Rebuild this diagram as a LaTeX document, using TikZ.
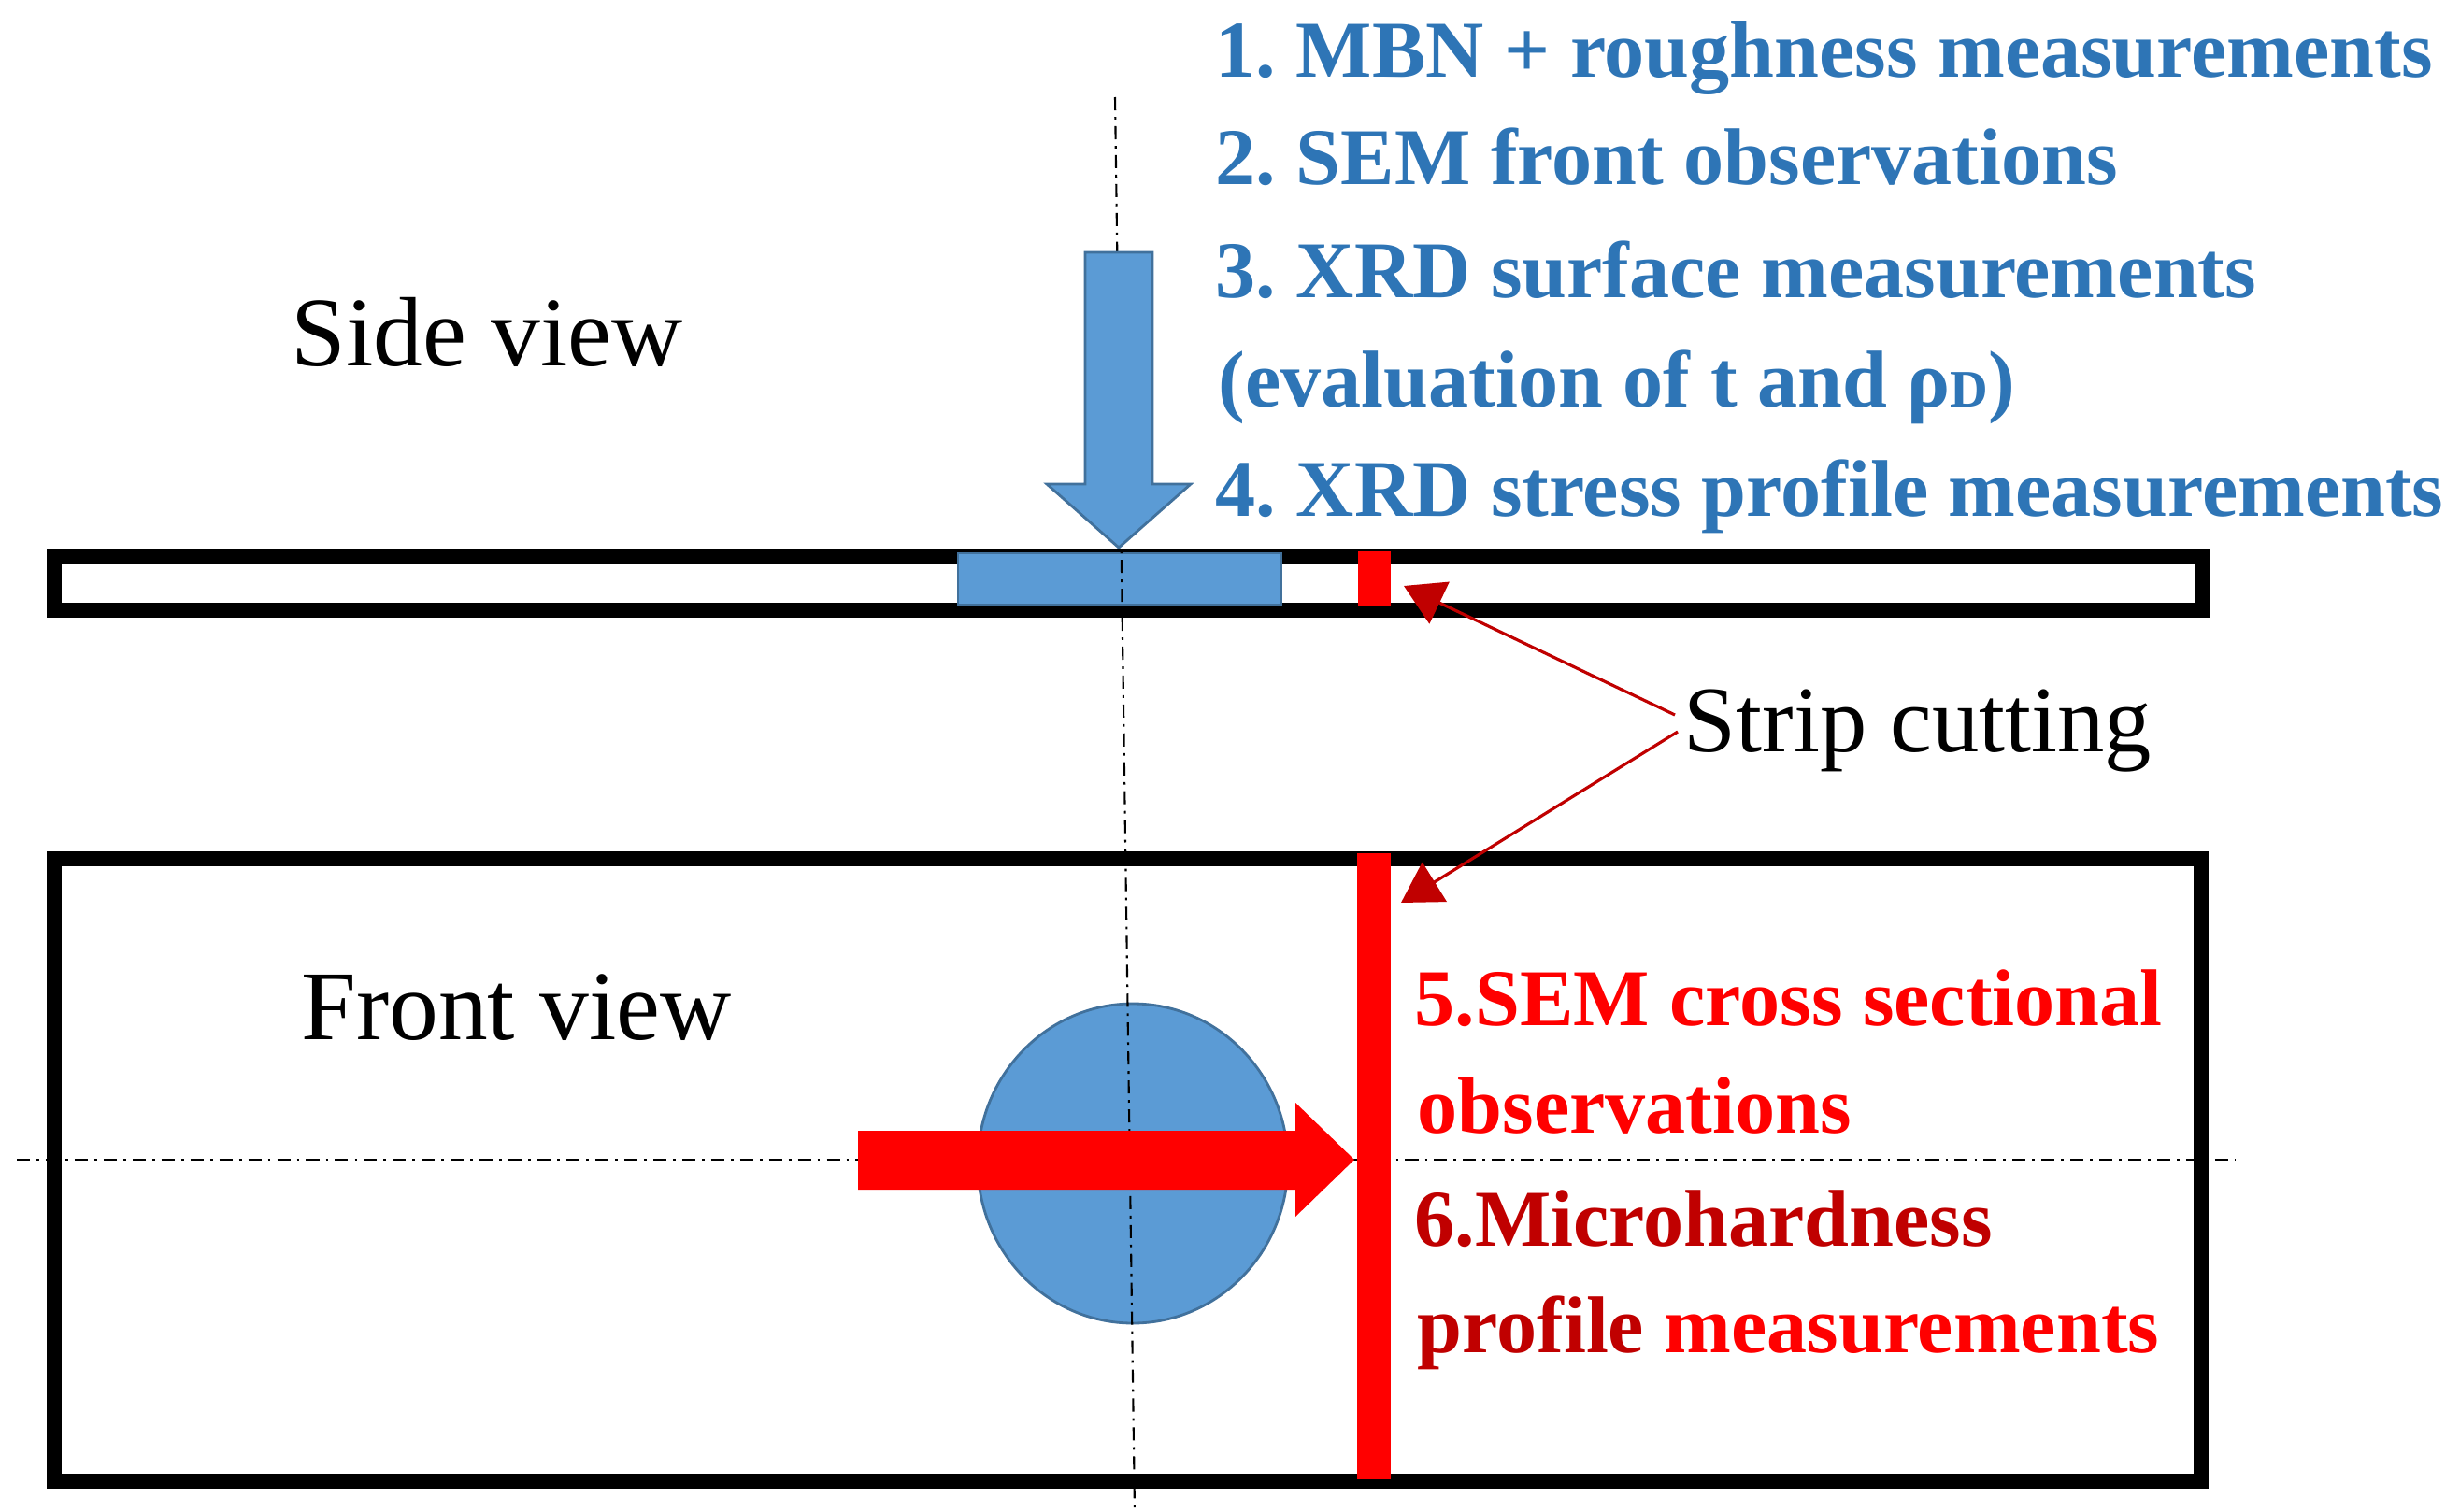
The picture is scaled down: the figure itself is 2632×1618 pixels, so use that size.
\documentclass[tikz,border=0pt]{standalone}
\usepackage{fontspec}
\setmainfont{Liberation Serif}
\usetikzlibrary{arrows.meta,calc}
\definecolor{tblue}{HTML}{2E75B6}
\definecolor{sfill}{HTML}{5B9BD5}
\definecolor{sline}{HTML}{41719C}
\definecolor{dred}{HTML}{C00000}
\begin{document}
\frenchspacing
\begin{tikzpicture}[x=0.01cm,y=-0.01cm,
  frame/.style={draw=black,line width=4.8pt,fill=white},
  blueshape/.style={fill=sfill,draw=sline,line width=0.8pt},
  axis/.style={black,line width=0.6pt,dash pattern=on 4pt off 2pt on 0.8pt off 2pt},
  bluetxt/.style={anchor=base west,inner sep=0pt,text=tblue,font=\fontsize{24.5}{29}\selectfont\bfseries},
  redtxt/.style={anchor=base west,inner sep=0pt,text=red,font=\fontsize{24.5}{29}\selectfont\bfseries},
  blacktxt/.style={anchor=base west,inner sep=0pt,text=black,font=\fontsize{30}{34}\selectfont},
  leader/.style={draw=dred,line width=0.9pt,-{Triangle[length=12pt,width=14pt]}}
]
\useasboundingbox (0,0) rectangle (2632,1618);
\fill[white] (0,0) rectangle (2632,1618);

% frames
\draw[frame] (58,596) rectangle (2356,653);
\draw[frame] (58,919) rectangle (2355,1585);

% blue sample on side view
\draw[blueshape] (1025,592) rectangle (1371,647);
% blue disc on front view
\draw[blueshape] (1212,1245) ellipse [x radius=166, y radius=171];

% centre lines
\draw[axis] (1193,104) -- (1214,1618);
\draw[axis] (18,1241) -- (2392,1241);

% blue arrow
\draw[blueshape] (1161,270) -- (1233,270) -- (1233,518) -- (1274,518) -- (1197,586) -- (1120,518) -- (1161,518) -- cycle;

% red arrow
\fill[red] (918,1210) -- (1386,1210) -- (1386,1180) -- (1449,1241) -- (1386,1302) -- (1386,1273) -- (918,1273) -- cycle;

% red cuts
\fill[red] (1453,590) rectangle (1488,648);
\fill[red] (1452,913) rectangle (1488,1583);

% texts
\node[blacktxt] (side) at (311,391) {Side view};
\node[blacktxt] (front) at (322,1112) {Front view};
\node[blacktxt,font=\fontsize{28.6}{33}\selectfont] (strip) at (1801,804) {Strip cutting};

\node[bluetxt] (t1) at (1300,82) {1. MBN + roughness measurements};
\node[bluetxt] (t2) at (1300,197) {2. SEM front observations};
\node[bluetxt] (t3) at (1300,318) {3. XRD surface measurements};
\node[bluetxt] (t4) at (1303,435) {(evaluation of t and ρ{\fontsize{16}{18}\selectfont D})};
\node[bluetxt] (t5) at (1300,552) {4. XRD stress profile measurements};

\node[redtxt] (r1) at (1513,1097) {5.SEM cross sectional};
\node[redtxt] (r2) at (1516,1212) {observations};
\node[redtxt,text=dred] (r3) at (1513,1333) {6.Microhardness};
\node[redtxt] (r4) at (1516,1447) {\textcolor{dred}{profile} measurements};

% leaders
\coordinate (cutTop) at (1502,627);
\coordinate (cutBot) at (1499,966);
\draw[leader] ($(strip.base west)+(-9,-39)$) -- (cutTop);
\draw[leader] ($(strip.base west)+(-6,-21)$) -- (cutBot);
\end{tikzpicture}
\end{document}
